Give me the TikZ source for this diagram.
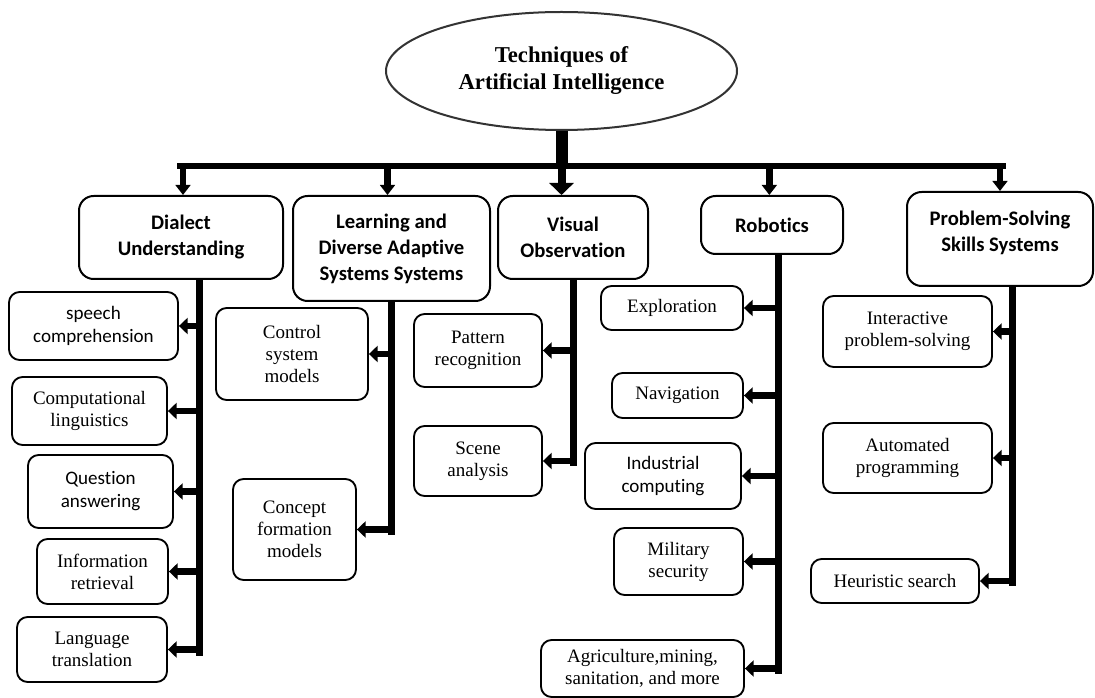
\documentclass[tikz,border=0pt]{standalone}
\usepackage{fontspec}
\setmainfont{Liberation Serif}
\newfontfamily\calibri[Ligatures=NoCommon]{Carlito}
\usetikzlibrary{arrows.meta,shapes.geometric}
\begin{document}
\begin{tikzpicture}[
  mainbox/.style={draw, line width=1.5pt, rounded corners=11pt, align=center, inner sep=0pt,
    font=\calibri\bfseries\fontsize{15.5}{19.5}\selectfont},
  subbox/.style={draw, line width=1.4pt, rounded corners=8pt, align=center, inner sep=0pt,
    font=\fontsize{14.25}{16.5}\selectfont},
  subsans/.style={subbox, font=\calibri\fontsize{14.3}{17.3}\selectfont},
  trunk/.style={line width=5.25pt},
  branch/.style={line width=5pt, -{Triangle[width=12pt,length=6.5pt]}},
  drop/.style={line width=5pt, -{Triangle[width=11pt,length=7.5pt]}}]
% one unit is one pixel of the 1095x698 layout
\def\px{0.75pt}
\begin{scope}[x=\px, y=-\px]
  \useasboundingbox (0,0) rectangle (1095,698);
  % Root
  \node[ellipse, draw=black!80, line width=1.5pt, minimum width=351*\px, minimum height=118*\px,
    inner sep=0pt, align=center, font=\bfseries\fontsize{17}{20.25}\selectfont]
    (root) at (561.5,71) {Techniques of\\Artificial Intelligence};
  % Main techniques
  \node[mainbox, minimum width=204*\px, minimum height=83*\px] (dial) at (181,237.5) {Dialect\\Understanding};
  \node[mainbox, minimum width=197*\px, minimum height=105*\px] (learn) at (391.5,248.5) {Learning and\\Diverse Adaptive\\Systems Systems};
  \node[mainbox, minimum width=150*\px, minimum height=83*\px] (visual) at (573,237.5) {Visual\\Observation};
  \node[mainbox, minimum width=142*\px, minimum height=58*\px] (robot) at (772,225) {Robotics};
  \node[mainbox, minimum width=186*\px, minimum height=94*\px, text depth=12pt] (prob) at (1000,239) {Problem-Solving\\Skills Systems};
  % Dialect Understanding
  \node[subsans, minimum width=169*\px, minimum height=68*\px] (speech) at (93.5,326) {speech\\comprehension};
  \node[subbox, minimum width=155*\px, minimum height=68*\px] (comp) at (89.5,411) {Computational\\linguistics};
  \node[subsans, minimum width=145*\px, minimum height=73*\px] (quest) at (100.5,491.5) {Question\\answering};
  \node[subbox, minimum width=131*\px, minimum height=65*\px] (info) at (102.5,571.5) {Information\\retrieval};
  \node[subbox, minimum width=150*\px, minimum height=65*\px] (lang) at (92,649.5) {Language\\translation};
  % Learning and Diverse Adaptive Systems
  \node[subbox, minimum width=152*\px, minimum height=92*\px] (ctrl) at (292,354) {Control\\system\\models};
  \node[subbox, minimum width=123*\px, minimum height=101*\px] (concept) at (294.5,529.5) {Concept\\formation\\models};
  % Visual Observation
  \node[subbox, minimum width=128*\px, minimum height=73*\px] (pattern) at (478,350.5) {Pattern\\recognition};
  \node[subbox, minimum width=128*\px, minimum height=70*\px] (scene) at (478,461) {Scene\\analysis};
  % Robotics
  \node[subbox, minimum width=142*\px, minimum height=44*\px] (explor) at (672,308) {Exploration};
  \node[subbox, minimum width=131*\px, minimum height=45*\px] (navig) at (677.5,395.5) {Navigation};
  \node[subsans, minimum width=156*\px, minimum height=66*\px] (indus) at (663,476) {Industrial\\computing};
  \node[subbox, minimum width=129*\px, minimum height=67*\px] (milit) at (678.5,561.5) {Military\\security};
  \node[subbox, minimum width=203*\px, minimum height=57*\px] (agri) at (642.5,668.5) {Agriculture,mining,\\sanitation, and more};
  % Problem-Solving Skills Systems
  \node[subbox, minimum width=169*\px, minimum height=71*\px] (inter) at (907.5,331.5) {Interactive\\problem-solving};
  \node[subbox, minimum width=169*\px, minimum height=70*\px] (auto) at (907.5,458) {Automated\\programming};
  \node[subbox, minimum width=168*\px, minimum height=44*\px] (heur) at (895,581) {Heuristic search};

  % Root to main techniques
  \coordinate (barL) at (177,166.5);
  \coordinate (barR) at (1006,166.5);
  \draw[line width=9pt] (root.south) -- (root.south |- barL);
  \draw[line width=4.5pt] (barL) -- (barR);
  \draw[line width=6pt, -{Triangle[width=18pt,length=9pt]}] (root.south |- barL) -- (root.south |- visual.north);
  \draw[drop] ([xshift=1.5pt]dial.north |- barL) -- ([xshift=1.5pt]dial.north);
  \draw[drop] ([xshift=-3pt]learn.north |- barL) -- ([xshift=-3pt]learn.north);
  \draw[drop] ([xshift=-2pt]robot.north |- barL) -- ([xshift=-2pt]robot.north);
  \draw[drop] (prob.north |- barL) -- (prob.north);

  % Trunks
  \coordinate (dialT) at ([xshift=13.5pt]dial.south);
  \coordinate (learnT) at (learn.south);
  \coordinate (visualT) at (visual.south);
  \coordinate (robotT) at ([xshift=4.5pt]robot.south);
  \coordinate (probT) at ([xshift=9pt]prob.south);
  \draw[trunk] (dialT) -- ([yshift=-5pt]dialT |- lang.east);
  \draw[trunk] (learnT) -- ([yshift=-4pt]learnT |- concept.east);
  \draw[trunk] (visualT) -- ([yshift=-4pt]visualT |- scene.east);
  \draw[trunk] (robotT) -- ([yshift=-4pt]robotT |- agri.east);
  \draw[trunk] (probT) -- ([yshift=-4pt]probT |- heur.east);

  % Branches
  \foreach \t/\c in {dialT/speech, dialT/comp, dialT/quest, dialT/info, dialT/lang,
                     learnT/ctrl, learnT/concept, visualT/pattern, visualT/scene,
                     robotT/explor, robotT/navig, robotT/indus, robotT/milit, robotT/agri,
                     probT/inter, probT/auto, probT/heur}
    \draw[branch] (\t |- \c.east) -- (\c.east);
\end{scope}
\end{tikzpicture}
\end{document}
